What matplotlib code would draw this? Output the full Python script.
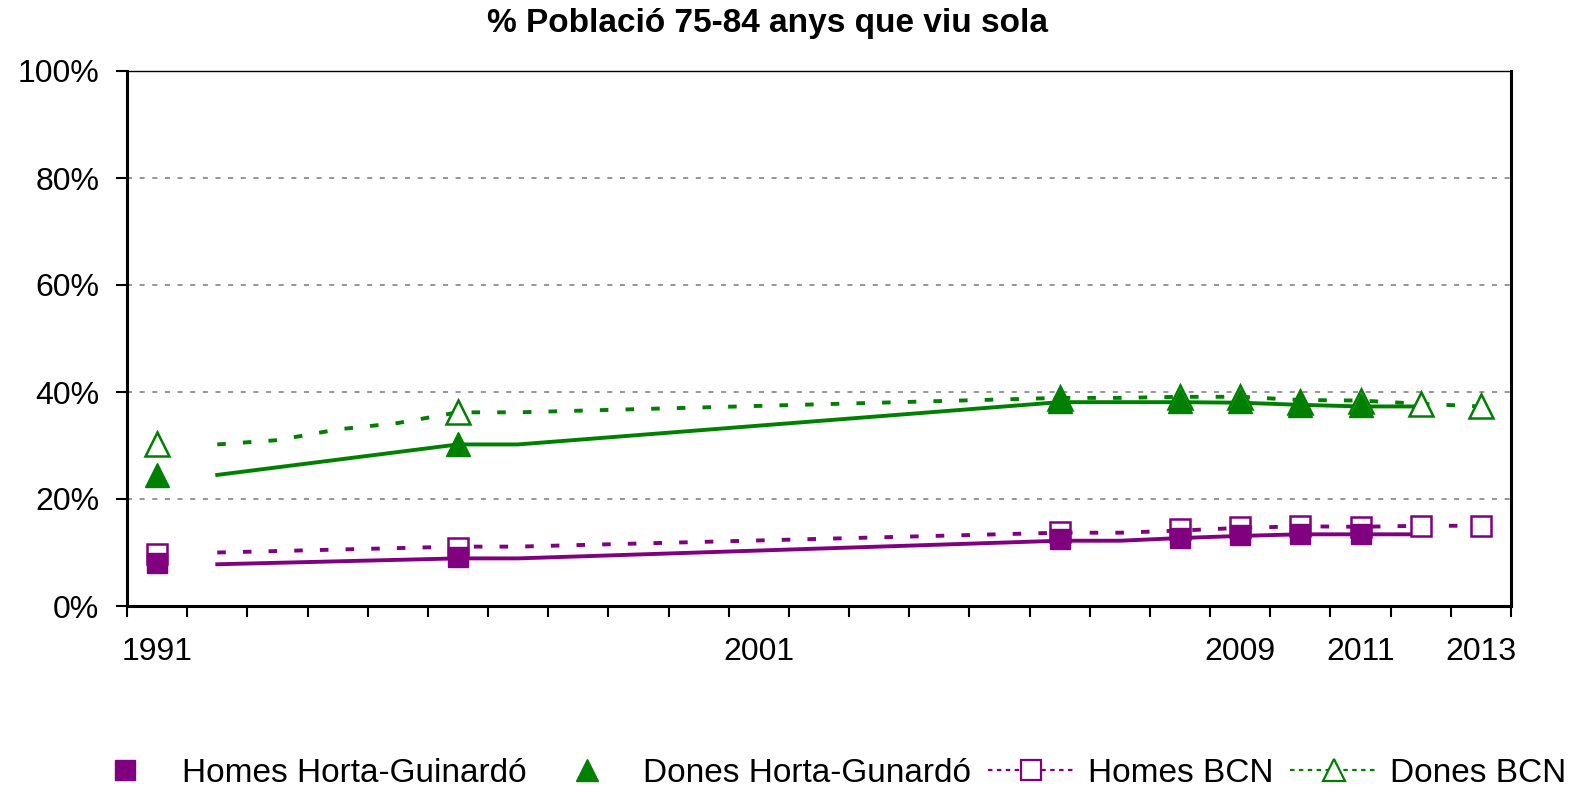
import matplotlib
matplotlib.use("Agg")
import matplotlib.pyplot as plt
from matplotlib.lines import Line2D

plt.rcParams['font.family'] = ['Liberation Sans', 'DejaVu Sans']

# categories on the x axis
years = list(range(1991, 2014))
year_labels = {1991: '1991', 2001: '2001', 2009: '2009', 2011: '2011', 2013: '2013'}

# marker values (%)
mk_years_hg = [1991, 1996, 2006, 2008, 2009, 2010, 2011]
homes_hg = [8.1, 9.1, 12.5, 12.8, 13.2, 13.5, 13.5]
dones_hg = [24.5, 30.2, 38.4, 38.4, 38.4, 37.6, 37.6]

mk_years_bcn = [1991, 1996, 2006, 2008, 2009, 2010, 2011, 2012, 2013]
homes_bcn = [9.8, 10.9, 13.9, 14.3, 14.7, 15.0, 14.7, 15.0, 15.0]
dones_bcn = [30.3, 36.2, 38.9, 39.0, 39.0, 38.1, 38.3, 37.7, 37.3]

# line values (%)
line_years_hg = [1992, 1996, 1997, 2006, 2007, 2008, 2009, 2010, 2011, 2012]
homes_hg_line = [7.8, 8.9, 8.9, 12.2, 12.2, 12.7, 13.1, 13.4, 13.4, 13.4]
dones_hg_line = [24.5, 30.2, 30.2, 38.1, 38.1, 38.1, 38.0, 37.6, 37.3, 37.3]

line_years_bcn_h = [1992, 1996, 1997, 2006, 2007, 2008, 2009, 2010, 2011, 2012, 2013]
homes_bcn_line = [10.0, 11.1, 11.1, 13.7, 13.7, 14.1, 14.6, 14.9, 14.8, 15.0, 15.0]
line_years_bcn_d = [1992, 1993, 1994, 1995, 1996, 1997, 2006, 2007, 2008, 2009,
                    2010, 2011, 2012, 2013]
dones_bcn_line = [30.2, 31.0, 33.0, 34.2, 36.2, 36.2, 38.9, 38.9, 39.1, 39.1,
                  38.5, 38.4, 37.8, 37.3]

purple = '#800080'
green = '#008000'
fs = 23

fig = plt.figure(figsize=(15.73, 7.93), dpi=100)
ax = fig.add_axes([127 / 1573, 187 / 793, 1384 / 1573, 535 / 793])

dash = (0, (2.2, 4.4))
ax.plot(line_years_bcn_h, homes_bcn_line, color=purple, lw=2.8, ls=dash, zorder=3)
ax.plot(line_years_bcn_d, dones_bcn_line, color=green, lw=2.8, ls=dash, zorder=3)
ax.plot(line_years_hg, homes_hg_line, color=purple, lw=2.8, zorder=4)
ax.plot(line_years_hg, dones_hg_line, color=green, lw=2.8, zorder=4)

ax.plot(mk_years_bcn, homes_bcn, ls='none', marker='s', ms=14.5, mfc='white',
        mec=purple, mew=1.8, zorder=5)
ax.plot(mk_years_bcn, dones_bcn, ls='none', marker='^', ms=17, mfc='white',
        mec=green, mew=1.8, zorder=5)
ax.plot(mk_years_hg, homes_hg, ls='none', marker='s', ms=14, color=purple, zorder=6)
ax.plot(mk_years_hg, dones_hg, ls='none', marker='^', ms=17, color=green, zorder=6)

ax.set_xlim(years[0] - 0.5, years[-1] + 0.5)
ax.set_ylim(0, 100)

# ticks at category boundaries, labels at selected years
ax.set_xticks([y - 0.5 for y in years] + [years[-1] + 0.5])
ax.set_xticklabels([])
ax.set_xticks(list(year_labels.keys()), minor=True)
ax.set_xticklabels(list(year_labels.values()), minor=True, fontsize=fs)
ax.tick_params(axis='x', which='major', direction='out', length=8, width=1.5)
ax.tick_params(axis='x', which='minor', length=0, pad=22)

ax.set_yticks(range(0, 101, 20))
ax.set_yticklabels([f'{v}%' for v in range(0, 101, 20)], fontsize=fs)
ax.tick_params(axis='y', direction='out', length=8, width=1.5, pad=12)

ax.grid(axis='y', color='#969696', lw=1.4, ls=(0, (2.6, 3.9)), zorder=1)
ax.set_axisbelow(True)

for side in ['left', 'bottom', 'right']:
    ax.spines[side].set_linewidth(2.2)
ax.spines['top'].set_linewidth(1)

fig.text(0.488, 0.970, '% Població 75-84 anys que viu sola', ha='center', va='center',
         fontsize=24, fontweight='bold')

handles = [
    Line2D([], [], ls='none', marker='s', ms=14.5, color=purple),
    Line2D([], [], ls='none', marker='^', ms=16, color=green),
    Line2D([], [], color=purple, lw=1.6, ls=(0, (2, 2)), marker='s', ms=14.5,
           mfc='white', mec=purple, mew=1.6),
    Line2D([], [], color=green, lw=1.6, ls=(0, (2, 2)), marker='^', ms=16,
           mfc='white', mec=green, mew=1.6),
]
labels = ['Homes Horta-Guinardó', 'Dones Horta-Gunardó', 'Homes BCN', 'Dones BCN']
fig.legend(handles, labels, loc='center', bbox_to_anchor=(0.524, 0.025), ncol=4,
           frameon=False, fontsize=24, handlelength=2.6, handletextpad=0.4,
           columnspacing=0.5, borderpad=0, borderaxespad=0)

fig.savefig('out.png', dpi=100)
